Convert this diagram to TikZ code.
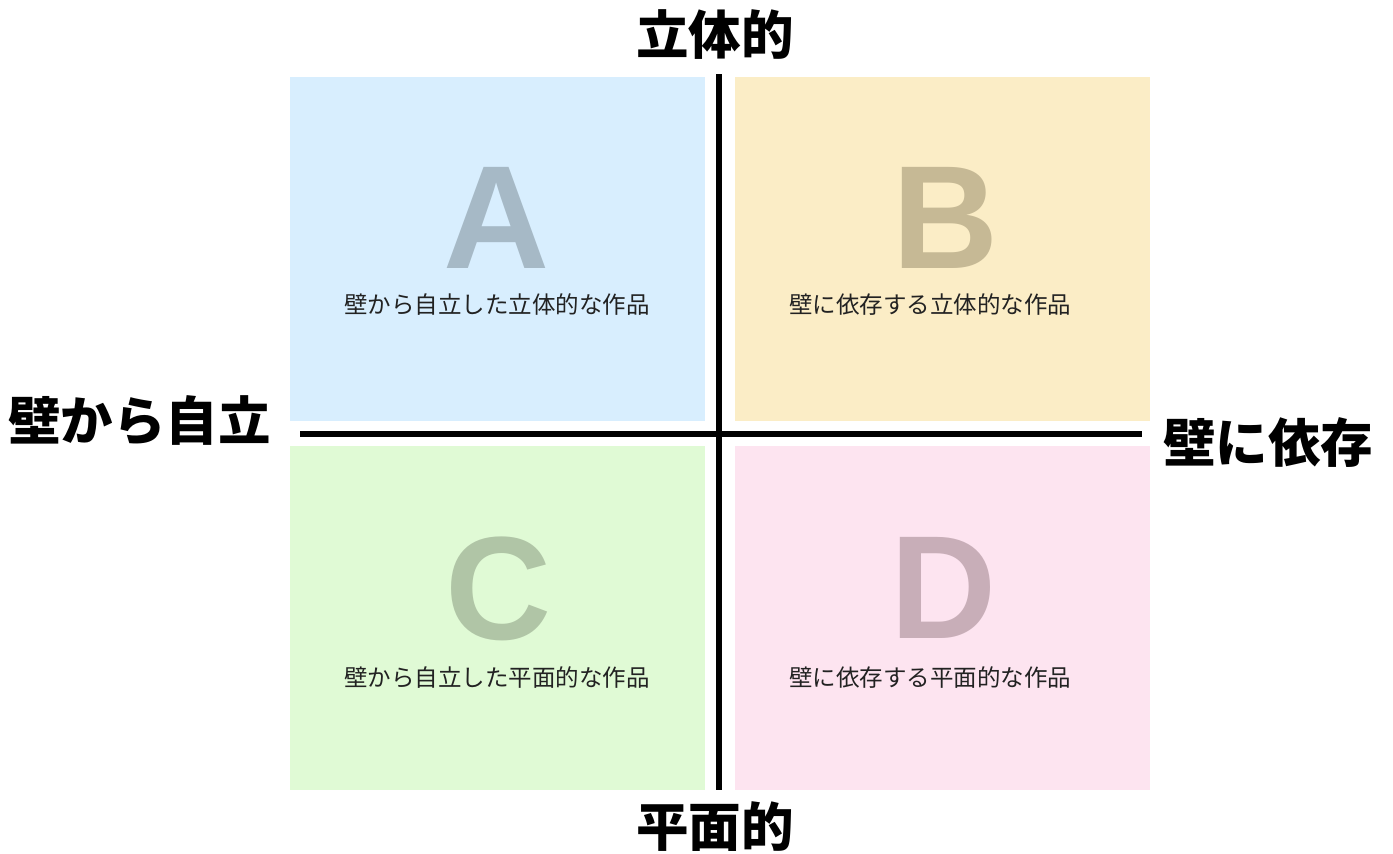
\documentclass[tikz,border=0pt]{standalone}
\usepackage{fontspec}
\setmainfont{Liberation Sans}
\newfontfamily\cjk{Noto Sans CJK JP}
\definecolor{fillA}{HTML}{D8EEFE}
\definecolor{fillB}{HTML}{FBEDC6}
\definecolor{fillC}{HTML}{E0FAD5}
\definecolor{fillD}{HTML}{FDE4F0}
\definecolor{letA}{HTML}{A6B9C6}
\definecolor{letB}{HTML}{C6B995}
\definecolor{letC}{HTML}{B0C5A6}
\definecolor{letD}{HTML}{C8AEB8}
\definecolor{subtxt}{HTML}{222222}
\tikzset{
  quad/.style={draw=none, minimum width=415pt, minimum height=344pt, inner sep=0pt},
  bigletter/.style={font=\bfseries\fontsize{147}{147}\selectfont, inner sep=0pt, anchor=base},
  subtext/.style={font=\cjk\fontsize{23.5}{26}\selectfont, text=subtxt, inner sep=0pt},
  axislabel/.style={font=\cjk\bfseries\fontsize{52.5}{60}\selectfont, inner sep=0pt},
  axis/.style={line width=6pt, black}
}
\begin{document}
\begin{tikzpicture}[x=1pt,y=-1pt]
\useasboundingbox (0,0) rectangle (1393,854);
% quadrants
\node[quad, fill=fillA] (qa) at (497.5,249) {};
\node[quad, fill=fillB] (qb) at (942.5,249) {};
\node[quad, fill=fillC] (qc) at (497.5,618) {};
\node[quad, fill=fillD] (qd) at (942.5,618) {};
% big letters
\node[bigletter, text=letA] (la) at (497,268) {A};
\node[bigletter, text=letB] (lb) at (946,268) {B};
\node[bigletter, text=letC] (lc) at (499,639) {C};
\node[bigletter, text=letD] (ld) at (944,638) {D};
% sub texts
\node[subtext] (ta) at (497,305) {壁から自立した立体的な作品};
\node[subtext] (tb) at (930,305) {壁に依存する立体的な作品};
\node[subtext] (tc) at (497,678) {壁から自立した平面的な作品};
\node[subtext] (td) at (930,678) {壁に依存する平面的な作品};
% axes
\coordinate (vtop) at (719,74);
\coordinate (vbot) at (719,790);
\coordinate (hl) at (300,434);
\coordinate (hr) at (1142,434);
\draw[axis] (vtop) -- (vbot);
\draw[axis] (hl) -- (hr);
% axis labels
\node[axislabel] (top) at (715,35) {立体的};
\node[axislabel] (bot) at (715,827) {平面的};
\node[axislabel, anchor=west] (left) at (8,421) {壁から自立};
\node[axislabel, anchor=west] (right) at (1163,443) {壁に依存};
\end{tikzpicture}
\end{document}
